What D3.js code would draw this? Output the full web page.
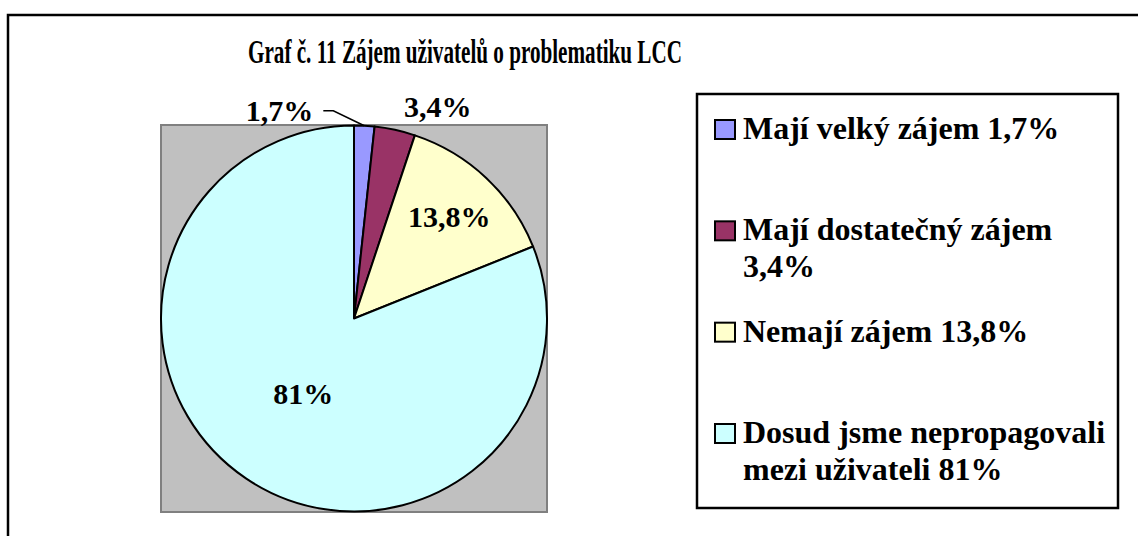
<!DOCTYPE html>
<html>
<head>
<meta charset="utf-8">
<script src="https://cdn.jsdelivr.net/npm/d3@7"></script>
<style>
  body { margin: 0; background: #fff; }
  text { font-family: "Liberation Serif", "Times New Roman", serif; font-weight: bold; fill: #000; }
</style>
</head>
<body>
<div id="chart"></div>
<script>
// Data
const categories = ["Mají velký zájem", "Mají dostatečný zájem", "Nemají zájem", "Dosud jsme nepropagovali mezi uživateli"];
const values = [1.7, 3.4, 13.8, 81];
const valueLabels = ["1,7%", "3,4%", "13,8%", "81%"];
// legend text split into lines as in the original
const legendLines = [
	["Mají velký zájem 1,7%"],
	["Mají dostatečný zájem", "3,4%"],
	["Nemají zájem 13,8%"],
	["Dosud jsme nepropagovali", "mezi uživateli 81%"]
];
const colors = ["#9999FF", "#993366", "#FFFFCC", "#CCFFFF"];

let width = 1138;
let height = 536;

var svg = d3.select("#chart")
	.append("svg")
	.attr("width", width)
	.attr("height", height);

// Outer frame (runs off the page on the right and bottom)
svg.append("rect")
	.attr("x", 8).attr("y", 15)
	.attr("width", 1200).attr("height", 600)
	.attr("fill", "#fff")
	.attr("stroke", "#000")
	.attr("stroke-width", 2.5);

// Title
svg.append("text")
	.attr("x", 248).attr("y", 63)
	.attr("font-size", "33px")
	.attr("textLength", 434)
	.attr("lengthAdjust", "spacingAndGlyphs")
	.text("Graf č. 11 Zájem uživatelů o problematiku LCC");

// Plot area
let plot = {"x": 161, "y": 125, "w": 386, "h": 387};
svg.append("rect")
	.attr("x", plot.x).attr("y", plot.y)
	.attr("width", plot.w).attr("height", plot.h)
	.attr("fill", "#C0C0C0")
	.attr("stroke", "#808080")
	.attr("stroke-width", 2);

let cx = 354, cy = 318.5, r = 193;
var g = svg.append("g").attr("transform", "translate(" + cx + "," + cy + ")");

var pie = d3.pie().sort(null).value((d) => d);
var arcs = pie(values);
var arc = d3.arc().innerRadius(0).outerRadius(r);

g.selectAll(".slice")
	.data(arcs)
	.enter()
	.append("path")
	.attr("class", "slice")
	.attr("d", arc)
	.attr("fill", (d, i) => colors[i])
	.attr("stroke", "#000")
	.attr("stroke-width", 2)
	.attr("stroke-linejoin", "round");

// Label placement: radius factor along the slice bisector plus nudge (Excel best fit)
const labelPlace = [
	{"k": 1.0, "dx": -51, "dy": -5, "anchor": "end"},
	{"k": 1.12, "dx": 38, "dy": 10, "anchor": "middle"},
	{"k": 0.72, "dx": 0, "dy": 10, "anchor": "middle"},
	{"k": 0.47, "dx": 0, "dy": 10, "anchor": "middle"}
];

var pos = arcs.map((d, i) => {
	let a = (d.startAngle + d.endAngle) / 2;
	let k = labelPlace[i].k;
	return [Math.sin(a) * r * k + labelPlace[i].dx, -Math.cos(a) * r * k + labelPlace[i].dy, a];
});

// leader line for the smallest slice
{
	let a = pos[0][2];
	let ex = Math.sin(a) * r, ey = -Math.cos(a) * r;
	g.append("polyline")
		.attr("points", [[ex, ey], [ex - 31, ey - 15], [ex - 41, ey - 15]].map((p) => p.join(",")).join(" "))
		.attr("fill", "none")
		.attr("stroke", "#000")
		.attr("stroke-width", 1.5);
}

g.selectAll(".lbl")
	.data(arcs)
	.enter()
	.append("text")
	.attr("class", "lbl")
	.attr("x", (d, i) => pos[i][0])
	.attr("y", (d, i) => pos[i][1])
	.attr("text-anchor", (d, i) => labelPlace[i].anchor)
	.attr("font-size", "30px")
	.text((d, i) => valueLabels[i]);

// Legend
svg.append("rect")
	.attr("x", 697).attr("y", 94)
	.attr("width", 421).attr("height", 414)
	.attr("fill", "#fff")
	.attr("stroke", "#000")
	.attr("stroke-width", 2.5);

var rowY = d3.scalePoint().domain(categories).range([139, 443]);
var legend = svg.selectAll(".leg")
	.data(categories)
	.enter()
	.append("g")
	.attr("class", "leg")
	.attr("transform", (d) => "translate(0," + rowY(d) + ")");

legend.append("rect")
	.attr("x", 715).attr("y", -19)
	.attr("width", 20).attr("height", 19)
	.attr("fill", (d, i) => colors[i])
	.attr("stroke", "#000")
	.attr("stroke-width", 2);

legend.each(function(d, i) {
	let t = d3.select(this).append("text")
		.attr("x", 743)
		.attr("font-size", "32px");
	legendLines[i].forEach((line, j) => {
		t.append("tspan").attr("x", 743).attr("y", j * 36.5).text(line);
	});
});
</script>
</body>
</html>
